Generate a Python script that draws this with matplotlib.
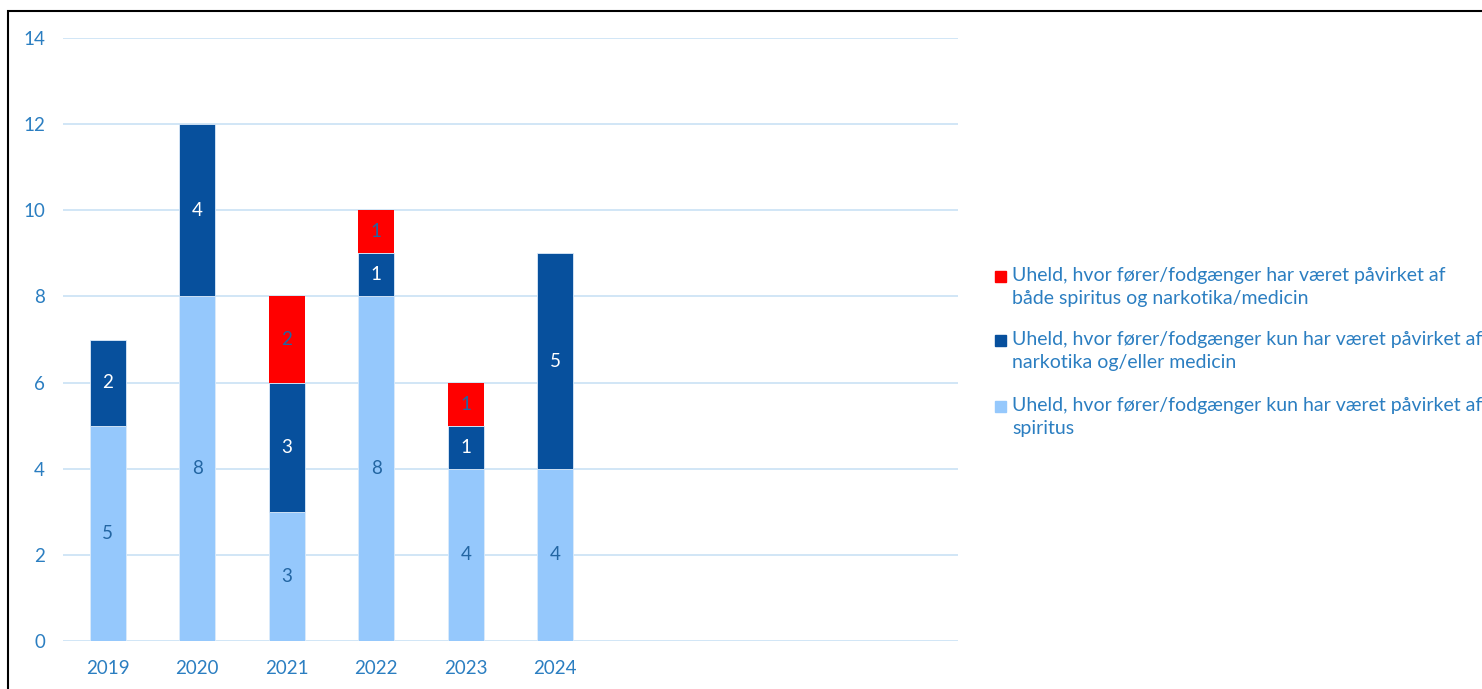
import matplotlib
matplotlib.use("Agg")
import matplotlib.pyplot as plt
from matplotlib.patches import Rectangle

plt.rcParams['font.family'] = ['Lato', 'DejaVu Sans']

years = ['2019', '2020', '2021', '2022', '2023', '2024']
spiritus = [5, 8, 3, 8, 4, 4]
narko = [2, 4, 3, 1, 1, 5]
begge = [0, 0, 2, 1, 1, 0]
legend_labels = [
    "Uheld, hvor fører/fodgænger har været påvirket af\nbåde spiritus og narkotika/medicin",
    "Uheld, hvor fører/fodgænger kun har været påvirket af\nnarkotika og/eller medicin",
    "Uheld, hvor fører/fodgænger kun har været påvirket af\nspiritus",
]
yticks = [0, 2, 4, 6, 8, 10, 12, 14]

c_light = '#95C8FC'
c_dark = '#07509D'
c_red = '#FF0000'
txt = '#2B7EC1'
lbl_dark = '#2366A3'
grid_c = '#C9E2F5'

fig = plt.figure(figsize=(14.82, 6.89), dpi=100)
ax = fig.add_axes([63/1482, 1-641/689, (958-63)/1482, (641-38)/689])

x = list(range(len(years)))
w = 0.4
ax.bar(x, spiritus, w, color=c_light, edgecolor='#DCEBFA', linewidth=0.6, zorder=3)
ax.bar(x, narko, w, bottom=spiritus, color=c_dark, edgecolor='#DCEBFA', linewidth=0.6, zorder=3)
bot3 = [s + n for s, n in zip(spiritus, narko)]
ax.bar(x, begge, w, bottom=bot3, color=c_red, linewidth=0.0, zorder=3)

fs = 13.5
for i in x:
    ax.text(i, spiritus[i] / 2, str(spiritus[i]), ha='center', va='center',
            color=lbl_dark, fontsize=fs, zorder=4)
    if narko[i]:
        ax.text(i, spiritus[i] + narko[i] / 2, str(narko[i]), ha='center', va='center',
                color='white', fontsize=fs, zorder=4)
    if begge[i]:
        ax.text(i, bot3[i] + begge[i] / 2, str(begge[i]), ha='center', va='center',
                color=lbl_dark, fontsize=fs, zorder=4)

ax.set_xlim(-0.5, 9.5)
ax.set_ylim(0, 14)
ax.set_yticks(yticks)
ax.set_xticks(x)
ax.set_xticklabels(years)
ax.tick_params(axis='both', length=0, labelsize=13.5, labelcolor=txt)
ax.tick_params(axis='y', pad=13)
ax.tick_params(axis='x', pad=14)
ax.grid(axis='y', color=grid_c, linewidth=1.2, zorder=0)
for s in ax.spines.values():
    s.set_visible(False)

# legend drawn manually
leg_colors = [c_red, c_dark, c_light]
leg_y = [276, 340, 406]
for col, lab, yy in zip(leg_colors, legend_labels, leg_y):
    fig.patches.append(Rectangle((995/1482, 1-(yy+6)/689), 11/1482, 11/689,
                                 transform=fig.transFigure, color=col))
    fig.text(1012/1482, 1-(yy-9)/689, lab, ha='left', va='top', color=txt,
             fontsize=14, linespacing=1.45)

# outer border
fig.patches.append(Rectangle((8/1482, -0.1), 1.2, 1-11/689+0.1, transform=fig.transFigure,
                             fill=False, edgecolor='black', linewidth=1.5))

fig.savefig('out.png', dpi=100)
